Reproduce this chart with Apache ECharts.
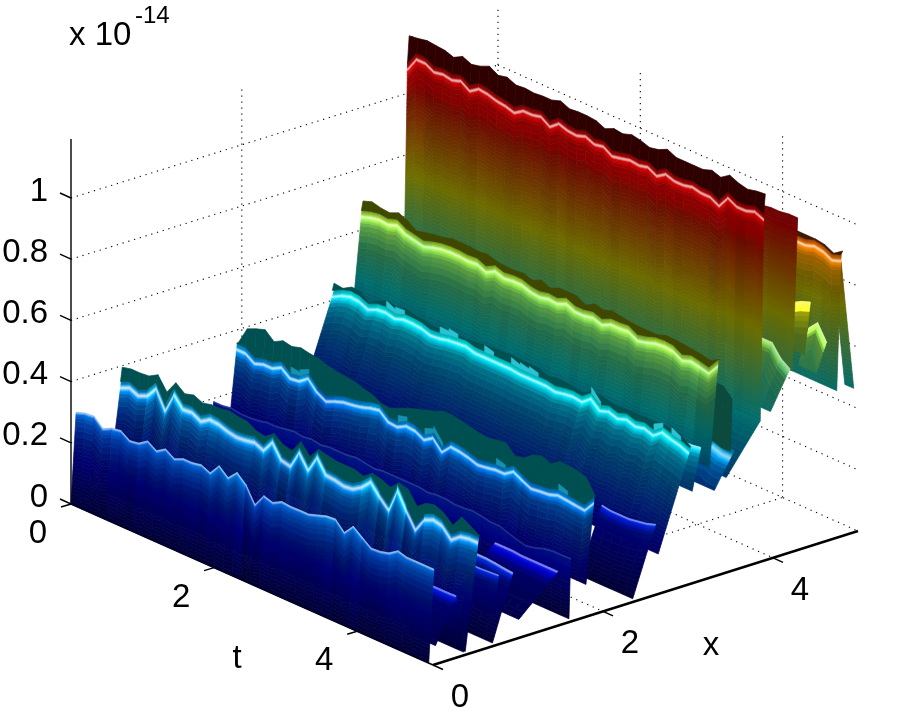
<!DOCTYPE html>
<html><head><meta charset="utf-8">
<style>html,body{margin:0;padding:0;background:#fff}#c{width:900px;height:718px}</style>
<script src="https://cdn.jsdelivr.net/npm/echarts@6/dist/echarts.min.js"></script>
</head><body><div id="c"></div>
<script>
// ---------- axis values ----------
const zTicks=[0,0.2,0.4,0.6,0.8,1];
const zTickLabels=['0','0.2','0.4','0.6','0.8','1'];
const xTicks=[0,2,4];
const tTicks=[0,2,4];
const tGrid=[0,0.125,0.25,0.375,0.5,0.625,0.75,0.875,1,1.125,1.25,1.375,1.5,1.625,1.75,1.875,2,2.125,2.25,2.375,2.5,2.625,2.75,2.875,3,3.125,3.25,3.375,3.5,3.625,3.75,3.875,4,4.125,4.25,4.375,4.5,4.625,4.75,4.875,5];
// ---------- surface values, in units of 1e-16 ----------
const crest1=[29.5,30.5,30.8,28,29.5,30,28,28.5,30.5,28.6,30.5,28.6,29.9,29.9,30.5,29.2,32.8,30.2,33.2,30.5,25.3,29.5,28.6,30.2,29.9,30,30,31,32,32.3,29.2,32.5,30.2,28,28.2,29,31,30.2,30.2,30.2,30.2];
const crest2=[33,34.3,33,34.3,37.9,32,38.6,35,35.3,33.7,35.6,35.3,34.3,33.7,34,34.6,33.3,37.3,32.7,32,37.9,33.3,38.9,34.3,34,33.3,33.7,35.6,38.6,35,32,39.9,34.3,29.4,34,35.3,34.6,31.4,33.7,34.3,34.3];
const rim2=[39.5,40.2,40.2,40.5,42.2,37.9,42.2,39.9,40.8,39.5,40.2,40.2,40.8,40.2,39.9,38.2,37.6,39.9,37.6,36.9,41.2,37.6,41.2,40.5,39.9,39.9,39.9,38.9,41.2,40.5,39.2,41.2,41.2,36.9,39.2,39.9,38.6,35.9,39.9,38.2,36];
const crest3=[19,19,19.5,19,19,19.3,20,20,20.5,21,20.6,21,20.5,21,21,21,21.5,21,20.5,21,21,21,21,21,20.5,21,21,20.5,20.6,21,20.6,20,20,19,18,17.3,18,19,19.5,19.5,19.6];
const crest4=[33.7,33.7,31.7,32.7,32.7,34.3,32,32.4,34.6,31.4,29.7,31,32,32.4,33,34,34.6,32,31.7,33.3,33,31.4,33.3,30,33,32.7,32,31,31.4,32,32,34,32.4,31,31.4,31.7,32.7,32.4,32,31.7,35.3];
const rim4=[34.3,41.5,42.8,43.8,41.2,42.8,42.2,43.1,42.5,42.2,41.2,40.5,40.2,39.9,38.9,38.2,36.3,36.3,37.6,38.9,39.9,40.8,41.8,43.1,43.1,42.5,41.8,41.2,40.8,41.5,41.8,38.9,39.5,41.8,42.8,41.5,43.5,43.5,43.1,42.2,35.3];
const crest5=[41.2,42.8,43.8,43.5,42.2,43.5,43.8,43.1,44.1,44.1,43.8,42.8,43.1,43.8,44.1,44.4,43.5,43.5,43.5,43.5,43.5,43.1,43.1,43.1,43.1,42.5,43.1,43.5,43.1,45.4,42.8,43.8,42.8,43.8,42.8,43.5,42.5,44.8,43.8,43.1,41.8];
const rim5=[45.4,45,46.7,46.4,44.1,46,47.4,46.4,47.4,46.7,46.4,45.8,45.8,45.8,46.4,46.4,46.7,47.1,47.4,47.4,47.7,47.4,47.4,47.4,46,46.7,46.7,46,45.8,47.7,47.4,46.7,46.4,46.7,46.7,46.7,46.7,47.1,46.7,46,42.5];
const crest6=[64.4,65.4,66,65.7,66.7,65,64.4,63.7,64.7,65.4,65.7,65.7,65.4,65.7,64.4,66,65,65.4,65.4,64.4,64,64.7,64.4,65.7,64.4,64.4,65,64,65.4,65.4,65.7,64,64.7,65.7,66,65.7,64,65,64.4,63.7,67.3];
const rim6=[69.3,70.3,69.6,69.3,70.6,69.3,67.3,68,68.6,69,69.9,69.9,69.9,69.6,69.9,69,68.6,68.6,69,68,69.3,68,69.3,69.3,69.3,67.6,69.3,68.6,69.6,69,68.6,68.3,68.3,68.3,69.3,69.3,69,68.6,68.3,67.6,68.6];
const crest7=[107.8,112.4,112.4,110.8,111.4,110.8,111.8,109.8,111.8,111.4,110.5,110.1,109.2,111.1,111.1,111.8,109.8,112.1,111.1,110.8,111.8,110.5,111.1,109.2,109.8,110.5,110.1,110.8,109.2,111.1,110.1,110.1,110.8,110.1,110.1,108.5,112.4,110.8,110.8,111.8,110.5];
const rim7=[118.6,119,119.6,119.3,119,118,119.6,118.3,119,120.3,118.6,119.3,118,118.3,118,118.3,118.3,119.3,118,118.3,118.3,118,116.7,118,117.6,118.6,118,117,117.6,119,117.6,117.6,117.6,117.6,118.6,117.6,119.6,118.3,117.6,118.3,118.6];
const crestTail=[89,89];
const crestS9=[89,89,89,89,89,90,89.5,88,89];
const rimS9=[92,92,92,92,92,91.5,91,90,92];
const crestP1=[76,77.6,78.7];
const crestP2=[66,69,64];
const crestS8=[106.5,106.5,106.5,106.5,106.5,107,107,107.5,107.5];
const crestS8a=[65,65,65,61,59];
const crestS7low=[45,45,45,45,45];
const crestS6b=[36,36,37,36,36];
const rimS6b=[50,50,58,58,55];
const crestS5b=[42,42,42.5];
const crestS3b=[20.5,20,20,20,20.5,21,22];
const crestC=[17,17,17,16.7,16.7,16.7,16.7,16.7];
const crestA=[21.9,21.9,21.6,21.2,20.9];
const crestB=[21.2,21.2,21.4,21.6];
const crestS1b=[19.1,19.1,19.1,19.2];
// t-sample numbers where a lighter patch shows on a ridge's top band
const rim4Spots=[6,7,18,21,22,29,36];
const rim5Spots=[6,7,12,13,17,20,21,22,29,36,38];

// ---------- table of the surface's ridges, back to front ----------
const ridges=[
 {xf:5,zf:.46,xc:4.85,crest:crestTail,start:39,spec:0,hw:.01,lift:.45},
 {xf:4.8,zf:.47,xc:4.85,crest:crestS9,rim:rimS9,rimColor:'#401800',start:32,spec:.8,hw:.007,lift:1},
 {xf:4.56,zf:.55,xc:4.68,crest:crestP2,start:38,spec:.45,hw:.02,lift:.9,mid:.5},
 {xf:4.42,zf:.62,xc:4.49,crest:crestP1,start:38,spec:.45,hw:.04,lift:1.2},
 {xf:4.28,zf:.58,xc:4.34,crest:crestS8,start:32,spec:0,hw:.01,lift:.46},
 {xf:4.02,zf:.47,xc:4.25,crest:crestS8a,start:36,spec:.55,hw:.012,lift:.8,mid:.46},
 {xf:3.9,zf:.45,xc:3.94,crest:crest7,rim:rim7,rimColor:'#2e0000',start:0,spec:.8,hw:.008,lift:1},
 {xf:3.5,zf:.3,xc:3.9,crest:crestS7low,start:36,spec:0,hw:.01,lift:.42},
 {xf:3.36,zf:.27,xc:3.55,crest:crestS6b,rim:rimS6b,rimColor:'#0b4a3c',start:36,spec:.6,hw:.012,lift:1},
 {xf:3.3,zf:.35,xc:3.4,crest:crest6,rim:rim6,rimColor:'#3f4700',start:0,spec:.8,hw:.006,lift:1},
 {xf:3.1,zf:.29,xc:3.2,crest:crestS5b,start:38,spec:.6,hw:.012,lift:1},
 {xf:2.7,zf:.12,xc:3.06,crest:crest5,rim:rim5,spots:rim5Spots,spotColor:'#28c4d4',rimColor:'#005052',start:0,spec:.85,hw:.006,lift:1,mid:.55},
 {xf:2.4,zf:0,xc:2.67,crest:crestS3b,start:34,spec:.7,hw:.005,lift:.9,mid:.44},
 {xf:1.85,zf:.095,xc:1.94,crest:crest4,rim:rim4,spots:rim4Spots,spotColor:'#1490b0',rimColor:'#005052',start:0,spec:.85,hw:.008,lift:1,mid:.55},
 {xf:1.65,zf:0,xc:1.67,crest:crest3,start:0,spec:.3,hw:.003,lift:.5},
 {xf:1.06,zf:.05,xc:1.52,crest:crestC,start:33,spec:.7,hw:.005,lift:.9,mid:.42},
 {xf:.75,zf:0,xc:.99,crest:crestA,start:36,spec:.7,hw:.008,lift:.9,mid:.42},
 {xf:.78,zf:.09,xc:.82,crest:crestB,start:37,spec:.7,hw:.004,lift:.9,mid:.42},
 {xf:.43,zf:0,xc:.58,crest:crest2,rim:rim2,rimColor:'#005052',start:0,spec:.85,hw:.011,lift:1},
 {xf:.41,zf:0,xc:.32,crest:crestS1b,start:37,spec:.6,hw:.005,lift:.9,mid:.42},
 {xf:.08,zf:.05,xc:.32,crest:crestS1b,start:37,spec:.6,hw:.005,lift:.9,mid:.42},
 {xf:0,zf:0,xc:.06,crest:crest1,start:0,spec:.7,hw:.007,lift:.85}
];

// ---------- view of the 3-D box ----------
const xMax=5,tMax=5.06,zMax=1.193,zPx=306;
const cO=[71,504],cB=[498,371],cC=[433,665],cR=[858,531];
function project(x,t,z){
  const u=x/xMax,v=t/tMax;
  const px=(1-u)*(1-v)*cO[0]+u*(1-v)*cB[0]+(1-u)*v*cC[0]+u*v*cR[0];
  const py=(1-u)*(1-v)*cO[1]+u*(1-v)*cB[1]+(1-u)*v*cC[1]+u*v*cR[1];
  return [px,py-z*zPx];
}
function jetRGB(z){
  let f=Math.max(0,Math.min(127,Math.floor(z/zMax*128)))/127;
  const c=a=>Math.max(0,Math.min(1,a));
  return [c(1.5-Math.abs(4*f-3)),c(1.5-Math.abs(4*f-2)),c(1.5-Math.abs(4*f-1))];
}
function colour(z,s,w){
  const j=jetRGB(z);
  return 'rgb('+j.map(a=>Math.round(255*Math.min(1,(a*s)*(1-w)+w))).join(',')+')';
}
const clamp=(a,l,h)=>Math.max(l,Math.min(h,a));
function shadeAt(d,r){
  const base=.42,mid=r.mid||.62,g2=.1,g1=.03;
  const lm=Math.min(mid,r.lift);
  let s,w=0;
  if(d>=g2)s=Math.min(base,r.lift);
  else if(d>=g1)s=base+(lm-base)*(g2-d)/(g2-g1);
  else if(d>=r.hw)s=lm+(r.lift-lm)*(g1-d)/Math.max(1e-6,g1-r.hw);
  else s=r.lift;
  if(Math.abs(d)<r.hw)w=r.spec*(1-Math.abs(d)/r.hw);
  if(d<0)s=r.lift-.45*r.lift*Math.min(1,-d/.02);
  return [s,w];
}
const upperLevels=[.1,.08,.06,.045,.03,.02,.014,.01,.006,.003,0,-.003,-.006,-.01,-.015,-.02];
const topLevels=[.1,.08,.06,.045,.03,.02,.014,.01,.006,.003,0];
const surfaceQuads=[];
ridges.forEach(r=>{
  const zc=r.crest.map(v=>v/100),n=zc.length;
  const mean=zc.reduce((a,b)=>a+b,0)/n;
  const span=mean-.1-r.zf;
  const low=span>0?Math.max(1,Math.round(span/.012)):0;
  const up=r.rim?upperLevels:topLevels;
  const nl=low+up.length;
  const curv=zc.map((v,k)=>(k>0&&k<n-1)?v-(zc[k-1]+zc[k+1])/2:0);
  const level=(k,l)=>{
    const c=zc[k];
    let z,d;
    if(l<low){z=r.zf+(c-.1-r.zf)*l/low;d=c-z;}
    else{d=up[l-low];z=Math.max(r.zf,c-d);}
    const fr=(z-r.zf)/Math.max(1e-6,c-r.zf);
    return {z,d,x:r.xf+(r.xc-r.xf)*fr};
  };
  for(let k=0;k<n-1;k++){
    const t0=tGrid[r.start+k],t1=tGrid[r.start+k+1];
    const cv=(curv[k]+curv[k+1])/2;
    for(let l=0;l<nl-1;l++){
      const a0=level(k,l),a1=level(k+1,l),b0=level(k,l+1),b1=level(k+1,l+1);
      if(Math.abs(b0.z-a0.z)<1e-6&&Math.abs(b1.z-a1.z)<1e-6)continue;
      const zm=(a0.z+a1.z+b0.z+b1.z)/4,dm=(a0.d+a1.d+b0.d+b1.d)/4;
      const sw=shadeAt(dm,r);
      const m=1+clamp(cv*6,-.3,.3)*(dm<.3?1:.5);
      surfaceQuads.push({pts:[project(a0.x,t0,a0.z),project(a1.x,t1,a1.z),project(b1.x,t1,b1.z),project(b0.x,t0,b0.z)],fill:colour(zm,sw[0]*m,sw[1])});
    }
    if(r.rim){
      const top=-up[up.length-1];
      const r0=r.rim[k]/100,r1=r.rim[k+1]/100;
      const z0=zc[k]+top,z1=zc[k+1]+top;
      const xr=r.xc+(r.xc>r.xf?.02:-.02);
      surfaceQuads.push({pts:[project(r.xc,t0,z0),project(r.xc,t1,z1),project(xr,t1,Math.max(r1,z1)),project(xr,t0,Math.max(r0,z0))],fill:r.rimColor});
    }
  }
  // lighter patches lying on the top band
  (r.spots||[]).forEach(i=>{
    const k=i-r.start;
    if(k<0||k>=n-1)return;
    const t0=tGrid[i],t1=tGrid[i+1],xr=r.xc+.01;
    const lo0=zc[k]+.016,lo1=zc[k+1]+.016,hi0=lo0+.02,hi1=lo1+.012;
    surfaceQuads.push({pts:[project(xr,t0,lo0),project(xr,t1,lo1),project(xr,t1,hi1),project(xr,t0,hi0)],fill:r.spotColor});
  });
});

// ---------- axis box: dotted grid, axis lines, ticks ----------
const gridLines=[],axisLines=[];
zTicks.forEach(z=>{
  gridLines.push([project(0,0,z),project(xMax,0,z)]);
  gridLines.push([project(xMax,0,z),project(xMax,tMax,z)]);
  axisLines.push({p:[project(0,0,z),[project(0,0,z)[0]-11,project(0,0,z)[1]-5]],w:1.4});
});
xTicks.forEach(x=>{
  if(x>0){gridLines.push([project(x,0,0),project(x,tMax,0)]);gridLines.push([project(x,0,0),project(x,0,zMax)]);}
  const b=project(x,tMax,0);
  axisLines.push({p:[b,[b[0]+10,b[1]+4.5]],w:1.4});
});
tTicks.forEach(t=>{
  if(t>0)gridLines.push([project(0,t,0),project(xMax,t,0)]);
  gridLines.push([project(xMax,t,0),project(xMax,t,zMax)]);
  const b=project(0,t,0);
  axisLines.push({p:[b,[b[0]-10,b[1]+3]],w:1.4});
});
axisLines.push({p:[project(0,0,0),project(0,0,zMax)],w:1.4});
axisLines.push({p:[project(0,0,0),project(0,tMax,0)],w:1.6});
axisLines.push({p:[project(0,tMax,0),project(xMax,tMax,0)],w:2.4});

const F='"Liberation Sans",Arial,sans-serif';
const texts=[];
zTicks.forEach((z,i)=>{const b=project(0,0,z);texts.push({s:zTickLabels[i],x:48,y:b[1]-6.5,a:'right',f:33});});
xTicks.forEach(x=>{const b=project(x,tMax,0);texts.push({s:String(x),x:b[0]+27,y:b[1]+33,a:'center',f:33});});
tTicks.forEach(t=>{const b=project(0,t,0);texts.push({s:String(t),x:b[0]-33,y:b[1]+30,a:'center',f:33});});
texts.push({s:'t',x:237,y:659,a:'center',f:33});
texts.push({s:'x',x:711,y:646,a:'center',f:33});
texts.push({s:'x 10',x:69,y:36,a:'left',f:33});
texts.push({s:'-14',x:135,y:16,a:'left',f:24});

const toPx=(api,p)=>api.coord(p);
const chart=echarts.init(document.getElementById('c'),null,{renderer:'canvas'});
chart.setOption({
  animation:false,backgroundColor:'#fff',
  grid:{left:0,right:0,top:0,bottom:0},
  xAxis:{type:'value',min:0,max:900,show:false},
  yAxis:{type:'value',min:0,max:718,inverse:true,show:false},
  tooltip:{show:false},
  series:[
   {type:'custom',name:'grid',coordinateSystem:'cartesian2d',silent:true,clip:false,progressive:0,
    data:gridLines.map((_,i)=>[i]),
    renderItem:(p,api)=>{const g=gridLines[p.dataIndex],a=toPx(api,g[0]),b=toPx(api,g[1]);
      return {type:'line',shape:{x1:a[0],y1:a[1],x2:b[0],y2:b[1]},style:{stroke:'#000',lineWidth:1.1,lineDash:[1.2,4.8]}};}},
   {type:'custom',name:'axes',coordinateSystem:'cartesian2d',silent:true,clip:false,progressive:0,
    data:axisLines.map((_,i)=>[i]),
    renderItem:(p,api)=>{const g=axisLines[p.dataIndex],a=toPx(api,g.p[0]),b=toPx(api,g.p[1]);
      return {type:'line',shape:{x1:a[0],y1:a[1],x2:b[0],y2:b[1]},style:{stroke:'#000',lineWidth:g.w}};}},
   {type:'custom',name:'surface',coordinateSystem:'cartesian2d',silent:true,clip:false,progressive:0,
    data:surfaceQuads.map((_,i)=>[i]),
    renderItem:(p,api)=>{const q=surfaceQuads[p.dataIndex];
      return {type:'polygon',shape:{points:q.pts.map(c=>toPx(api,c))},style:{fill:q.fill,stroke:q.fill,lineWidth:.7}};}},
   {type:'custom',name:'labels',coordinateSystem:'cartesian2d',silent:true,clip:false,progressive:0,
    data:texts.map((_,i)=>[i]),
    renderItem:(p,api)=>{const t=texts[p.dataIndex],a=toPx(api,[t.x,t.y]);
      return {type:'text',style:{text:t.s,x:a[0],y:a[1],textAlign:t.a,textVerticalAlign:'middle',fill:'#000',font:t.f+'px '+F}};}}
  ]
});
</script></body></html>
